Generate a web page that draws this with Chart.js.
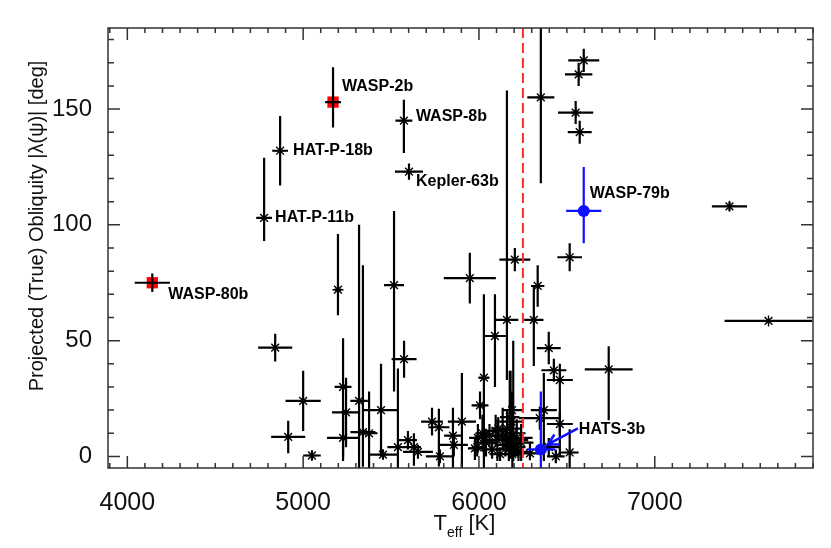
<!DOCTYPE html>
<html>
<head>
<meta charset="utf-8">
<script src="https://cdn.jsdelivr.net/npm/chart.js@4.4.0/dist/chart.umd.min.js"></script>
<style>
  html, body { margin: 0; padding: 0; background: #fff; }
  #wrap { width: 831px; height: 548px; }
</style>
</head>
<body>
<div id="wrap"><canvas id="chart"></canvas></div>
<script>
// axis ranges, ticks
const xMin = 3890, xMax = 7900;
const yMin = -5, yMax = 185;
const xTickValues = [4000, 5000, 6000, 7000];
const yTickValues = [0, 50, 100, 150];
const kraftBreak = 6250;

// unlabelled systems: Teff [K], error, obliquity [deg], lower / upper error
const teff = [6352, 6596, 6567, 6550, 6573, 7425, 7647, 6738, 6516, 6334,
  6312, 6397, 6426, 6460, 6369, 6346, 6460, 6516, 6437, 6290,
  6397, 5948, 6204, 6159, 6091, 6028, 6006, 5198, 4841, 5000,
  4915, 5050, 5227, 5244, 5227, 5318, 5340, 5517, 5574, 5375,
  5443, 5454, 5539, 5596, 5630, 5653, 5733, 5772, 5778, 5852,
  5857, 5903, 5977, 5994, 6188, 6020,
  6040, 6060, 6075, 6095, 6105, 6120, 6135, 6150, 6160, 6170,
  6180, 6190, 6195, 6205, 6215, 6225, 6240, 6185, 6175, 6110, 5990];
const teffErr = [77, 88, 78, 100, 68, 100, 250, 136, 70, 38,
  55, 68, 71, 74, 74, 120, 74, 51, 50, 50,
  60, 148, 88, 65, 62, 30, 48, 20, 97, 100,
  97, 50, 48, 80, 91, 50, 71, 57, 71, 48,
  100, 80, 60, 51, 40, 85, 62, 60, 80, 50,
  80, 80, 40, 50, 57, 40,
  60, 80, 50, 70, 90, 60, 75, 50, 80, 60,
  100, 45, 70, 60, 90, 50, 70, 70, 55, 40, 30];
const obliq = [155, 171, 165, 148.5, 140, 108, 58.5, 37.6, 86, 73.6,
  59, 46.8, 37.2, 33, 20, 16.5, 14, 1.7, 0, 1.3,
  4, 77, 85, 59, 52, 34, 22, 72, 47, 24,
  8.4, 0.4, 30, 19, 8, 24, 10.5, 74, 42, 10,
  20, 0.8, 4, 7, 4, 2, 15, 12.6, 0, 9,
  5, 15, 3.5, 8, 20, 10,
  6, 9, 3, 11, 7, 1, 9, 5, 12, 3,
  7, 1, 10, 4, 8, 2, 6, 15, 17, 12, 4];
const obliqErrLo = [37, 5, 5, 5, 5, 2, 1, 22, 6, 9,
  20, 7, 5, 33, 22, 5, 5, 8, 3, 3,
  4, 11, 5, 26, 22, 39, 6, 11, 6, 13,
  7, 2, 30, 15, 10, 29, 15, 46, 8, 15,
  20, 2, 9, 4, 8, 3, 6, 17, 3, 14,
  5, 20, 5, 6, 8, 8,
  6, 5, 4, 7, 9, 3, 6, 5, 10, 5,
  8, 6, 12, 4, 8, 4, 8, 12, 10, 5, 4];
const obliqErrHi = [40, 5, 5, 5, 5, 2, 1, 10, 6, 9,
  15, 7, 5, 7, 16, 5, 5, 10, 3, 5,
  4, 11, 5, 99, 18, 36, 6, 24, 6, 13,
  7, 2, 21, 15, 10, 76, 72, 32, 8, 18,
  20, 2, 34, 4, 6, 3, 6, 8, 3, 12,
  5, 21, 5, 6, 8, 8,
  6, 5, 4, 7, 9, 3, 12, 5, 8, 6,
  30, 25, 40, 4, 8, 4, 8, 10, 20, 5, 4];

// labelled systems
const namedPlanets = ["WASP-2b", "WASP-80b", "HAT-P-18b", "HAT-P-11b", "WASP-8b", "Kepler-63b", "WASP-79b", "HATS-3b"];
const namedTeff = [5170, 4142, 4869, 4778, 5573, 5602, 6596, 6352];
const namedTeffErr = [45, 100, 45, 45, 48, 80, 100, 80];
const namedObliq = [153, 75, 132, 103, 145, 123, 106, 3];
const namedObliqErrLo = [11, 4, 15, 10, 14, 3.5, 14, 25];
const namedObliqErrHi = [15, 4, 15, 26, 9, 3.5, 19, 25];
const namedGroup = ["red", "red", "black", "black", "black", "black", "blue", "blue"];

// where the name sits relative to its marker (pixels)
const labelOffsets = {
  "WASP-2b": [9, -16], "WASP-80b": [16, 12], "HAT-P-18b": [13, 0], "HAT-P-11b": [11, 0],
  "WASP-8b": [12, -4], "Kepler-63b": [7, 10], "WASP-79b": [6, -17], "HATS-3b": [38, -20]
};

const blackPts = teff.map((t, i) => ({x: t, y: obliq[i], xe: teffErr[i], lo: obliqErrLo[i], hi: obliqErrHi[i]}));
function groupPts(g) {
  const out = [];
  namedPlanets.forEach((n, i) => {
    if (namedGroup[i] === g) out.push({x: namedTeff[i], y: namedObliq[i], xe: namedTeffErr[i],
      lo: namedObliqErrLo[i], hi: namedObliqErrHi[i], name: n});
  });
  return out;
}

const FONT = "'Liberation Sans', Helvetica, Arial, sans-serif";

function drawBars(chart, ds) {
  const {ctx, chartArea: a, scales: {x, y}} = chart;
  ctx.save();
  ctx.beginPath();
  ctx.rect(a.left, a.top, a.right - a.left, a.bottom - a.top);
  ctx.clip();
  ctx.strokeStyle = ds.barColor;
  ctx.lineWidth = 2.2;
  ds.data.forEach(p => {
    const px = x.getPixelForValue(p.x), py = y.getPixelForValue(p.y);
    ctx.beginPath();
    ctx.moveTo(x.getPixelForValue(p.x - p.xe), py);
    ctx.lineTo(x.getPixelForValue(p.x + p.xe), py);
    ctx.moveTo(px, y.getPixelForValue(p.y - p.lo));
    ctx.lineTo(px, y.getPixelForValue(p.y + p.hi));
    ctx.stroke();
  });
  ctx.restore();
}

const decorations = {
  id: 'decorations',
  beforeDatasetDraw(chart, args) {
    const ds = chart.data.datasets[args.index];
    if (ds.barColor !== '#1010ff') return;
    // Kraft break line
    const {ctx, chartArea: a, scales: {x}} = chart;
    const px = x.getPixelForValue(kraftBreak);
    ctx.save();
    ctx.strokeStyle = '#ff2a2a';
    ctx.lineWidth = 2;
    ctx.setLineDash([10, 5]);
    ctx.beginPath();
    ctx.moveTo(px, a.top);
    ctx.lineTo(px, a.bottom);
    ctx.stroke();
    ctx.restore();
  },
  afterDatasetDraw(chart, args) {
    drawBars(chart, chart.data.datasets[args.index]);
  },
  afterDraw(chart) {
    const {ctx, chartArea: a, scales: {x, y}} = chart;
    ctx.save();
    // frame and inward ticks
    ctx.strokeStyle = '#333';
    ctx.lineWidth = 1.5;
    ctx.strokeRect(a.left, a.top, a.right - a.left, a.bottom - a.top);
    ctx.beginPath();
    for (let v = 3900; v <= xMax; v += 100) {
      const px = x.getPixelForValue(v);
      const len = v % 1000 === 0 ? 12 : 5;
      ctx.moveTo(px, a.bottom); ctx.lineTo(px, a.bottom - len);
      ctx.moveTo(px, a.top); ctx.lineTo(px, a.top + len);
    }
    for (let v = 0; v <= yMax; v += 10) {
      const py = y.getPixelForValue(v);
      const len = v % 50 === 0 ? 12 : 6;
      ctx.moveTo(a.left, py); ctx.lineTo(a.left + len, py);
      ctx.moveTo(a.right, py); ctx.lineTo(a.right - len, py);
    }
    ctx.stroke();

    // planet names
    ctx.fillStyle = '#000';
    ctx.font = "bold 16px " + FONT;
    ctx.textBaseline = 'middle';
    ctx.textAlign = 'left';
    namedPlanets.forEach((n, i) => {
      const px = x.getPixelForValue(namedTeff[i]), py = y.getPixelForValue(namedObliq[i]);
      const [dx, dy] = labelOffsets[n];
      ctx.fillText(n, px + dx, py + dy);
      if (n === "HATS-3b") {
        // arrow from the label to the point
        const sx = px + dx - 1, sy = py + dy - 1, ex = px + 7, ey = py - 5;
        ctx.strokeStyle = '#1010ff';
        ctx.lineWidth = 2.5;
        ctx.beginPath();
        ctx.moveTo(sx, sy); ctx.lineTo(ex, ey);
        const ang = Math.atan2(ey - sy, ex - sx);
        ctx.moveTo(ex + 12 * Math.cos(ang + Math.PI - 0.5), ey + 12 * Math.sin(ang + Math.PI - 0.5));
        ctx.lineTo(ex, ey);
        ctx.lineTo(ex + 12 * Math.cos(ang + Math.PI + 0.5), ey + 12 * Math.sin(ang + Math.PI + 0.5));
        ctx.stroke();
      }
    });

    // axis titles
    ctx.fillStyle = '#111';
    ctx.textBaseline = 'alphabetic';
    const cx = (a.left + a.right) / 2 + 4;
    ctx.font = "22px " + FONT;
    const wT = ctx.measureText("T").width;
    const wK = ctx.measureText(" [K]").width;
    ctx.font = "14px " + FONT;
    const wE = ctx.measureText("eff").width;
    let sx = cx - (wT + wE + wK) / 2;
    ctx.font = "22px " + FONT;
    ctx.fillText("T", sx, 530);
    ctx.font = "14px " + FONT;
    ctx.fillText("eff", sx + wT, 537);
    ctx.font = "22px " + FONT;
    ctx.fillText(" [K]", sx + wT + wE, 530);

    ctx.translate(37, 226);
    ctx.rotate(-Math.PI / 2);
    ctx.textAlign = 'center';
    ctx.textBaseline = 'middle';
    ctx.font = "20px " + FONT;
    ctx.fillText("Projected (True) Obliquity |\u03bb(\u03c8)| [deg]", 0, 0);
    ctx.restore();
  }
};

new Chart(document.getElementById('chart'), {
  type: 'scatter',
  data: {
    datasets: [
      { data: blackPts, barColor: '#000', pointStyle: 'star', radius: 5.5, borderColor: '#000', borderWidth: 1.4, order: 4 },
      { data: groupPts('black'), barColor: '#000', pointStyle: 'star', radius: 5.5, borderColor: '#000', borderWidth: 1.4, order: 3 },
      { data: groupPts('red'), barColor: '#000', pointStyle: 'rect', radius: 8, backgroundColor: '#ff0000', borderColor: '#ff0000', borderWidth: 0, order: 2 },
      { data: groupPts('blue'), barColor: '#1010ff', pointStyle: 'circle', radius: 6, backgroundColor: '#1010ff', borderColor: '#1010ff', borderWidth: 0, order: 1 }
    ]
  },
  options: {
    responsive: true,
    maintainAspectRatio: false,
    animation: false,
    layout: { padding: { top: 28, right: 18, left: 0, bottom: 0 } },
    plugins: { legend: { display: false }, tooltip: { enabled: false } },
    scales: {
      x: {
        type: 'linear', min: xMin, max: xMax,
        grid: { display: false }, border: { display: false },
        afterBuildTicks: s => { s.ticks = xTickValues.map(v => ({value: v})); },
        afterFit: s => { s.height = 80; },
        ticks: { color: '#111', padding: 12, maxRotation: 0, font: { size: 25, family: FONT }, callback: v => String(v) }
      },
      y: {
        type: 'linear', min: yMin, max: yMax,
        grid: { display: false }, border: { display: false },
        afterBuildTicks: s => { s.ticks = yTickValues.map(v => ({value: v})); },
        afterFit: s => { s.width = 108; },
        ticks: { color: '#111', padding: 8, font: { size: 24, family: FONT }, callback: v => String(v) }
      }
    }
  },
  plugins: [decorations]
});
</script>
</body>
</html>
